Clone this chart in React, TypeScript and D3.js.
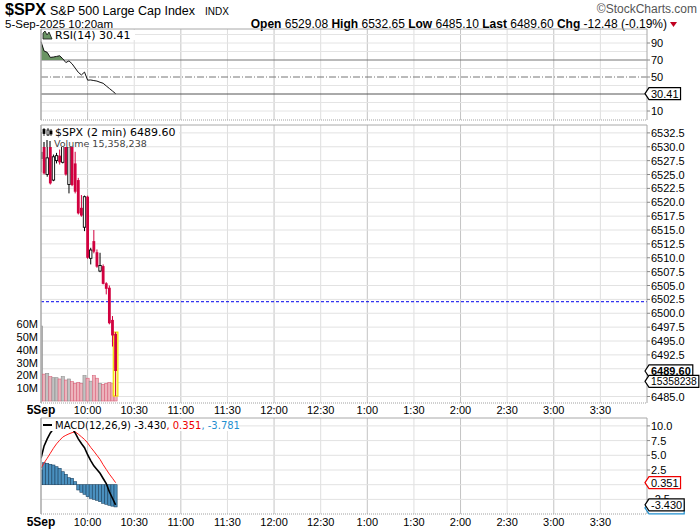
import React from 'react';
import * as d3 from 'd3';

const parseTime = d3.timeParse('%H:%M');

// 2-minute bars for 5-Sep-2025, session so far
const barTimes = [
  '09:30', '09:32', '09:34', '09:36', '09:38', '09:40', '09:42', '09:44', '09:46', '09:48',
  '09:50', '09:52', '09:54', '09:56', '09:58', '10:00', '10:02', '10:04', '10:06', '10:08',
  '10:10', '10:12', '10:14', '10:16', '10:18',
];
const opens = [
  6529.08, 6530.2, 6525.0, 6530.1, 6524.0, 6527.5, 6528.4, 6527.2, 6531.0, 6523.2,
  6530.0, 6527.0, 6524.0, 6519.0, 6515.5, 6521.0, 6509.9, 6513.0, 6511.0, 6507.6,
  6508.5, 6505.4, 6504.6, 6498.8, 6496.3,
];
const highs = [
  6532.65, 6531.4, 6530.0, 6530.6, 6528.6, 6528.9, 6529.5, 6531.8, 6531.5, 6531.0,
  6530.6, 6529.1, 6524.4, 6521.3, 6521.2, 6521.2, 6511.8, 6515.0, 6511.5, 6510.9,
  6508.8, 6505.6, 6505.0, 6499.5, 6496.6,
];
const lows = [
  6525.4, 6525.0, 6524.6, 6523.2, 6523.8, 6527.0, 6526.8, 6527.0, 6524.8, 6521.6,
  6522.9, 6521.6, 6517.8, 6517.4, 6514.8, 6509.8, 6508.8, 6510.8, 6508.2, 6507.4,
  6505.2, 6503.4, 6498.0, 6494.0, 6485.1,
];
const closes = [
  6527.8, 6525.2, 6528.0, 6523.4, 6528.2, 6528.4, 6527.2, 6531.0, 6525.0, 6530.0,
  6523.1, 6521.9, 6518.0, 6517.6, 6521.0, 6510.0, 6511.4, 6511.1, 6508.4, 6508.6,
  6505.3, 6504.4, 6498.2, 6496.0, 6489.6,
];
const volumes = [
  58.6e6, 21.0e6, 21.6e6, 19.0e6, 18.2e6, 18.2e6, 17.2e6, 19.0e6, 16.4e6, 17.2e6,
  15.1e6, 13.8e6, 14.4e6, 13.8e6, 19.8e6, 17.8e6, 15.5e6, 19.8e6, 17.8e6, 13.8e6,
  13.0e6, 13.8e6, 14.5e6, 13.5e6, 15358238,
];
const rsiValues = [
  91.6, 80.5, 79.0, 73.0, 73.5, 74.2, 75.0, 71.5, 67.0, 69.0,
  65.5, 60.5, 55.5, 52.4, 55.8, 46.3, 46.5, 45.8, 45.2, 43.8,
  42.6, 39.5, 36.5, 33.5, 30.41,
];
const macdValues = [
  4.5, 6.6, 7.8, 8.8, 9.5, 9.9, 10.2, 10.3, 10.2, 9.9,
  9.6, 8.8, 7.8, 7.0, 6.3, 5.1, 4.1, 3.2, 2.6, 1.94,
  1.05, 0.2, -1.2, -2.3, -3.43,
];
const signalValues = [
  2.8, 3.7, 4.5, 5.35, 6.2, 6.95, 7.55, 8.1, 8.4, 8.65,
  8.85, 9.0, 8.6, 8.15, 7.7, 7.1, 6.35, 5.7, 5.0, 4.3,
  3.4, 2.6, 1.8, 1.1, 0.351,
];
const histValues = [
  2.5, 3.74, 3.64, 3.47, 3.35, 3.06, 2.79, 2.21, 1.77, 1.19,
  1.09, 0.51, -0.9, -1.29, -1.63, -2.04, -2.31, -2.48, -2.65, -2.89,
  -3.16, -3.33, -3.5, -3.65, -3.781,
];
const prevClose = 6502.08;

const tickTimes = ['09:30', '10:00', '10:30', '11:00', '11:30', '12:00', '12:30', '13:00', '13:30', '14:00', '14:30', '15:00', '15:30'];
const tickLabels = ['5Sep', '10:00', '10:30', '11:00', '11:30', '12:00', '12:30', '1:00', '1:30', '2:00', '2:30', '3:00', '3:30'];
const priceTicks = [6532.5, 6530, 6527.5, 6525, 6522.5, 6520, 6517.5, 6515, 6512.5, 6510, 6507.5, 6505, 6502.5, 6500, 6497.5, 6495, 6492.5, 6490, 6487.5, 6485];
const volTicks = [10e6, 20e6, 30e6, 40e6, 50e6, 60e6];
const rsiTicks = [90, 70, 50, 30, 10];
const macdTicks = [10, 7.5, 5, 2.5, 0, -2.5];
const headerStats = [['Open', '6529.08'], ['High', '6532.65'], ['Low', '6485.10'], ['Last', '6489.60']];

const AX = '"Liberation Sans", Arial, sans-serif';
const LG = '"DejaVu Sans", Verdana, sans-serif';
const RED = '#d1003f';

// rough glyph widths of Liberation Sans at 11px
const charW = (c: string) => (/[0-9]/.test(c) ? 6.12 : c === '.' || c === ',' ? 3.06 : c === '-' ? 3.66 : 6);
const textW = (s: string, size = 11) => (d3.sum(s.split(''), charW) * size) / 11;

function Tag({ y, label, stroke, bold = false, size = 11, showText = true }:
  { y: number; label: string; stroke: string; bold?: boolean; size?: number; showText?: boolean }) {
  const tip = 645;
  const b = tip + 4;
  const w = textW(label, size) + 4;
  const d = `M${tip},${y} L${b},${y - 6} L${b + w},${y - 6} L${b + w},${y + 6} L${b},${y + 6} Z`;
  return (
    <g>
      <path d={d} fill="#fff" stroke={stroke} strokeWidth={1.2} />
      {showText && (
        <text x={b + 2} y={y + 4} fontFamily={AX} fontSize={size} fontWeight={bold ? 'bold' : 'normal'} fill="#000">{label}</text>
      )}
    </g>
  );
}

export default function App() {
  const L = 41, R = 647;
  const rsiTop = 29, rsiBot = 120;
  const pTop = 125, pBot = 403;
  const mTop = 418, mBot = 514;

  const x = d3.scaleTime().domain([parseTime('09:30')!, parseTime('16:00')!]).range([L, R]);
  const rsiY = d3.scaleLinear().domain([0, 100]).range([119.5, 34.5]);
  const priceY = d3.scaleLinear().domain([6485, 6532.5]).range([396.5, 132.9]);
  const volY = d3.scaleLinear().domain([0, 60e6]).range([401, 324.2]);
  const macdY = d3.scaleLinear().domain([0, 10]).range([484.7, 425.9]);

  const bx = barTimes.map(t => x(parseTime(t)!));
  const up = closes.map((c, i) => c >= (i === 0 ? prevClose : closes[i - 1]));
  const bw = 3.106;

  const rsiLine = d3.line<number>().x((_, i) => bx[i]).y(d => rsiY(d));
  const rsiArea = d3.area<number>().x((_, i) => bx[i]).y0(rsiY(70)).y1(d => rsiY(d));
  const macdLine = d3.line<number>().x((_, i) => bx[i]).y(d => macdY(d));
  const sigLine = d3.line<number>().x((_, i) => bx[i]).y(d => macdY(d));

  const vGrid = (top: number, bot: number) =>
    tickTimes.slice(1).map(t => {
      const xx = x(parseTime(t)!);
      const hour = t.endsWith(':00');
      return <line key={t} x1={xx} x2={xx} y1={top} y2={bot} stroke={hour ? '#c4c4c4' : '#dedede'} />;
    });

  const frame = (top: number, bot: number) => (
    <g>
      <line x1={L} x2={R} y1={top} y2={top} stroke="#a8a8a8" />
      <line x1={L} x2={R} y1={bot} y2={bot} stroke="#a0a0a0" strokeDasharray="1,1" />
      <line x1={L} x2={L} y1={top} y2={bot} stroke="#a8a8a8" strokeWidth={1.5} />
      <line x1={R} x2={R} y1={top} y2={bot} stroke="#a8a8a8" />
    </g>
  );

  const lastPriceY = priceY(closes[closes.length - 1]);
  const lastVolY = volY(volumes[volumes.length - 1]);
  const lastRsiY = rsiY(rsiValues[rsiValues.length - 1]);
  const lastMacdY = macdY(macdValues[macdValues.length - 1]);
  const lastSigY = macdY(signalValues[signalValues.length - 1]);
  const lastHistY = macdY(histValues[histValues.length - 1]);

  const rightLabels = (ticks: number[], scale: (v: number) => number, fmt: (v: number) => string, avoid: number[]) =>
    ticks
      .filter(t => avoid.every(a => Math.abs(scale(t) - a) > 5))
      .map(t => (
        <g key={t}>
          <line x1={R} x2={R + 3} y1={scale(t)} y2={scale(t)} stroke="#888" />
          <text x={R + 4} y={scale(t) + 4} fontFamily={AX} fontSize={11} fill="#000">{fmt(t)}</text>
        </g>
      ));

  const n = barTimes.length;

  return (
    <svg width={700} height={530} style={{ position: 'absolute', left: 0, top: 0, background: '#fff' }}>
      <defs>
        <clipPath id="pclip"><rect x={L} y={pTop} width={R - L} height={pBot - pTop} /></clipPath>
        <clipPath id="mclip"><rect x={L} y={mTop} width={R - L} height={mBot - mTop} /></clipPath>
        <clipPath id="rclip"><rect x={L} y={rsiTop} width={R - L} height={rsiY(70) - rsiTop} /></clipPath>
      </defs>
      <rect width={700} height={530} fill="#fff" />

      {/* header */}
      <text x={5} y={14.5} fontFamily={AX} fontSize={16} fontWeight="bold">$SPX</text>
      <text x={50} y={14.5} fontFamily={AX} fontSize={12.5}>{'S&P 500 Large Cap Index'}</text>
      <text x={205} y={14.5} fontFamily={AX} fontSize={10}>INDX</text>
      <text x={697} y={13} textAnchor="end" fontFamily={AX} fontSize={12} fill="#555">©StockCharts.com</text>
      <text x={5} y={28} fontFamily={AX} fontSize={11.5}>5-Sep-2025 10:20am</text>
      <text x={667} y={28} textAnchor="end" fontFamily={AX} fontSize={12}>
        {headerStats.map(([k, v]) => (
          <React.Fragment key={k}>
            <tspan fontWeight="bold">{k}</tspan>
            <tspan>{' ' + v + '  '}</tspan>
          </React.Fragment>
        ))}
        <tspan fontWeight="bold">Chg</tspan>
        <tspan>{' -12.48 (-0.19%)'}</tspan>
      </text>
      <path d="M670,22 L677,22 L673.5,27 Z" fill="#c00020" />

      {/* RSI panel */}
      {vGrid(rsiTop, rsiBot)}
      {d3.range(10, 101, 10).filter(v => v !== 70 && v !== 50 && v !== 30).map(v => (
        <line key={v} x1={L} x2={R} y1={rsiY(v)} y2={rsiY(v)} stroke="#e4e4e4" />
      ))}
      <line x1={L} x2={R} y1={rsiY(70)} y2={rsiY(70)} stroke="#777" />
      <line x1={L} x2={R} y1={rsiY(50)} y2={rsiY(50)} stroke="#777" strokeDasharray="7,2,1,2" />
      <line x1={L} x2={R} y1={rsiY(30)} y2={rsiY(30)} stroke="#555" />
      <path d={rsiArea(rsiValues) || ''} fill="#6a9464" clipPath="url(#rclip)" />
      <path d={rsiLine(rsiValues) || ''} fill="none" stroke="#111" strokeWidth={1} />
      {frame(rsiTop, rsiBot)}
      <rect x={L + 1} y={rsiTop + 1} width={93} height={10} fill="#fff" />
      <path d="M43,39 L43,33 L45,31 L47,35 L49,32 L52,39 Z" fill="#6a9464" stroke="#111" strokeWidth={0.8} />
      <text x={55} y={39} fontFamily={LG} fontSize={11}>RSI(14) 30.41</text>
      {rightLabels(rsiTicks, rsiY, v => String(v), [lastRsiY])}
      <Tag y={lastRsiY} label="30.41" stroke="#000" />

      {/* price panel */}
      {vGrid(pTop, pBot)}
      {priceTicks.map(t => (
        <line key={t} x1={L} x2={R} y1={priceY(t)} y2={priceY(t)} stroke="#e2e2e2" />
      ))}
      <g clipPath="url(#pclip)">
        {volumes.map((v, i) => (
          <rect key={i} x={bx[i] - bw / 2} y={volY(v)} width={bw} height={volY(0) - volY(v)}
            fill={up[i] ? '#c2c2c2' : '#edb3bc'} stroke={up[i] ? '#8c8c8c' : '#d9627a'} strokeWidth={0.6} />
        ))}
        <line x1={L} x2={R} y1={priceY(prevClose)} y2={priceY(prevClose)} stroke="#0000ee" strokeDasharray="3,2" />
        <rect x={bx[n - 1] - 2.3} y={priceY(highs[n - 1])} width={4.6} height={priceY(lows[n - 1]) - priceY(highs[n - 1])}
          fill="#ffff9a" stroke="#f0e000" strokeWidth={1.2} />
        {barTimes.map((_, i) => {
          const color = up[i] ? '#000' : RED;
          const hollow = closes[i] > opens[i];
          const top = priceY(Math.max(opens[i], closes[i]));
          const h = Math.max(1, Math.abs(priceY(opens[i]) - priceY(closes[i])));
          return (
            <g key={i}>
              <line x1={bx[i]} x2={bx[i]} y1={priceY(highs[i])} y2={priceY(lows[i])} stroke={color} strokeWidth={1} />
              {hollow ? (
                <rect x={bx[i] - 1.2} y={top} width={2.4} height={h} fill="#fff" stroke={color} strokeWidth={0.9} />
              ) : (
                <rect x={bx[i] - 1.4} y={top} width={2.8} height={h} fill={color} />
              )}
            </g>
          );
        })}
      </g>
      {frame(pTop, pBot)}
      <rect x={L + 1} y={pTop + 1} width={137} height={11} fill="#fff" />
      <rect x={L + 1} y={pTop + 12} width={95} height={10} fill="#fff" />
      <g stroke="#000" strokeWidth={0.8}>
        <line x1={44} x2={44} y1={128} y2={136} />
        <rect x={43} y={129.5} width={2} height={4} fill="#000" />
        <line x1={48} x2={48} y1={128} y2={136} />
        <rect x={47} y={130} width={2} height={5} fill="#fff" />
        <line x1={51} x2={51} y1={129} y2={136} />
        <rect x={50} y={131} width={2} height={3} fill="#000" />
      </g>
      <text x={55} y={136} fontFamily={LG} fontSize={11}>$SPX (2 min) 6489.60</text>
      <g fill="#777">
        <rect x={43} y={142} width={2} height={5} />
        <rect x={46} y={140} width={2} height={7} />
        <rect x={49} y={141} width={2} height={6} />
      </g>
      <text x={54} y={147} fontFamily={LG} fontSize={9.5} fill="#444">Volume 15,358,238</text>
      {volTicks.map(v => (
        <text key={v} x={38} y={volY(v) + 4} textAnchor="end" fontFamily={AX} fontSize={11}>{v / 1e6 + 'M'}</text>
      ))}
      {rightLabels(priceTicks, priceY, v => v.toFixed(1), [lastPriceY, lastVolY])}
      <Tag y={lastPriceY} label="6489.60" stroke="#000" bold />
      <Tag y={lastVolY} label="15358238" stroke="#000" size={10.3} />

      {/* time axis between panels */}
      {tickTimes.map((t, i) => (
        <text key={t} x={x(parseTime(t)!)} y={414} textAnchor="middle" fontFamily={AX}
          fontSize={i === 0 ? 12 : 11} fontWeight={i === 0 ? 'bold' : 'normal'}>{tickLabels[i]}</text>
      ))}

      {/* MACD panel */}
      {vGrid(mTop, mBot)}
      {macdTicks.map(t => (
        <line key={t} x1={L} x2={R} y1={macdY(t)} y2={macdY(t)} stroke="#e2e2e2" />
      ))}
      <g clipPath="url(#mclip)">
        {histValues.map((v, i) => (
          <rect key={i} x={bx[i] - bw / 2} y={Math.min(macdY(0), macdY(v))} width={bw}
            height={Math.abs(macdY(v) - macdY(0))} fill="#4a90bf" stroke="#1d4463" strokeWidth={0.6} />
        ))}
        <path d={sigLine(signalValues) || ''} fill="none" stroke="#ff1a1a" strokeWidth={1} />
        <path d={macdLine(macdValues) || ''} fill="none" stroke="#000" strokeWidth={1.6} />
      </g>
      {frame(mTop, mBot)}
      <rect x={L + 1} y={mTop + 1} width={196} height={12} fill="#fff" />
      <rect x={43} y={424} width={9} height={2} fill="#000" />
      <text x={55} y={429} fontFamily={LG} fontSize={10}>
        <tspan>MACD(12,26,9) -3.430</tspan>
        <tspan fill="#ee0000">, 0.351</tspan>
        <tspan fill="#1f8fcf">, -3.781</tspan>
      </text>
      {rightLabels(macdTicks, macdY, v => v.toFixed(1), [lastSigY])}
      <Tag y={lastHistY + 1} label="-3.781" stroke="#1f8fcf" showText={false} />
      <Tag y={lastMacdY} label="-3.430" stroke="#000" />
      <Tag y={lastSigY} label="0.351" stroke="#ee0000" />
      {tickTimes.map((t, i) => (
        <text key={t} x={x(parseTime(t)!)} y={526} textAnchor="middle" fontFamily={AX}
          fontSize={i === 0 ? 12 : 11} fontWeight={i === 0 ? 'bold' : 'normal'}>{tickLabels[i]}</text>
      ))}
    </svg>
  );
}
